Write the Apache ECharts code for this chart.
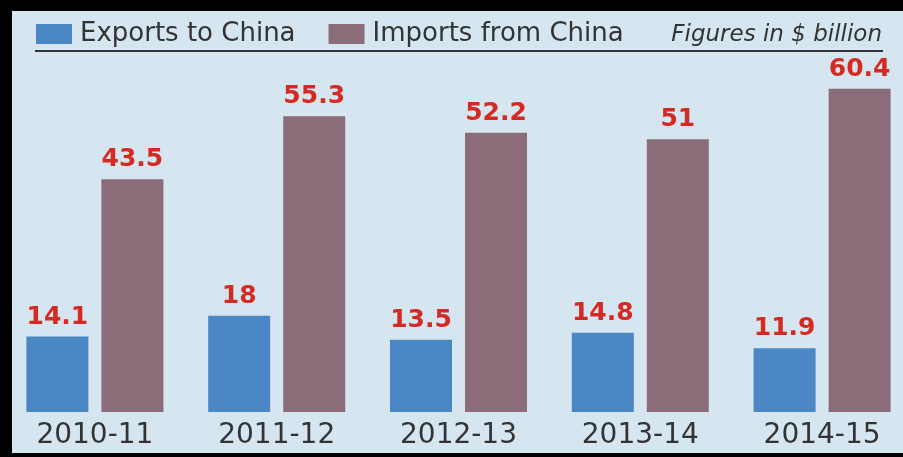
<!DOCTYPE html>
<html>
<head>
<meta charset="utf-8">
<script src="https://cdn.jsdelivr.net/npm/echarts@6/dist/echarts.min.js"></script>
<style>html,body{margin:0;padding:0;background:#000;overflow:hidden;width:903px;height:457px;}#c{width:913px;height:457px;}</style>
</head>
<body>
<div id="c"></div>
<script>
const categories = ['2010-11', '2011-12', '2012-13', '2013-14', '2014-15'];
const exportsToChina = [14.1, 18, 13.5, 14.8, 11.9];
const importsFromChina = [43.5, 55.3, 52.2, 51, 60.4];
const seriesNames = ['Exports to China', 'Imports from China'];
const noteText = 'Figures in $ billion';

const chart = echarts.init(document.getElementById('c'));
const labelStyle = {
  show: true,
  position: 'top',
  distance: 7,
  fontFamily: 'DejaVu Sans',
  fontWeight: 'bold',
  fontSize: 25,
  color: '#d42a22'
};
chart.setOption({
  backgroundColor: '#d5e6f0',
  animation: false,
  title: {
    text: noteText,
    right: 26,
    top: 19,
    textStyle: {fontFamily: 'DejaVu Sans', fontStyle: 'italic', fontWeight: 'normal', fontSize: 23, color: '#333'}
  },
  legend: {
    left: 31,
    top: 16,
    itemWidth: 36,
    itemHeight: 20,
    itemGap: 33,
    icon: 'rect',
    textStyle: {fontFamily: 'DejaVu Sans', fontSize: 26, color: '#333', padding: [0, 0, 0, 3]},
    data: seriesNames
  },
  grid: {left: 4, right: 0, top: 37.5, bottom: 45},
  xAxis: {
    type: 'category',
    data: categories,
    axisLine: {show: false},
    axisTick: {show: false},
    axisLabel: {fontFamily: 'DejaVu Sans', fontSize: 28, color: '#333', margin: 10}
  },
  yAxis: {type: 'value', min: 0, max: 70, show: false, splitLine: {show: false}},
  series: [
    {name: seriesNames[0], type: 'bar', data: exportsToChina, barWidth: 62, barGap: '21%',
     itemStyle: {color: '#4a87c4'}, label: labelStyle},
    {name: seriesNames[1], type: 'bar', data: importsFromChina, barWidth: 62,
     itemStyle: {color: '#8a6d78'}, label: labelStyle}
  ],
  graphic: [
    {type: 'line', shape: {x1: 35, y1: 51, x2: 883, y2: 51}, style: {stroke: '#333', lineWidth: 2}, z: 10},
    {type: 'rect', shape: {x: 0, y: 0, width: 913, height: 11}, style: {fill: '#000'}, z: 100},
    {type: 'rect', shape: {x: 0, y: 0, width: 12, height: 457}, style: {fill: '#000'}, z: 100},
    {type: 'rect', shape: {x: 0, y: 453, width: 913, height: 4}, style: {fill: '#000'}, z: 100}
  ]
});
</script>
</body>
</html>
